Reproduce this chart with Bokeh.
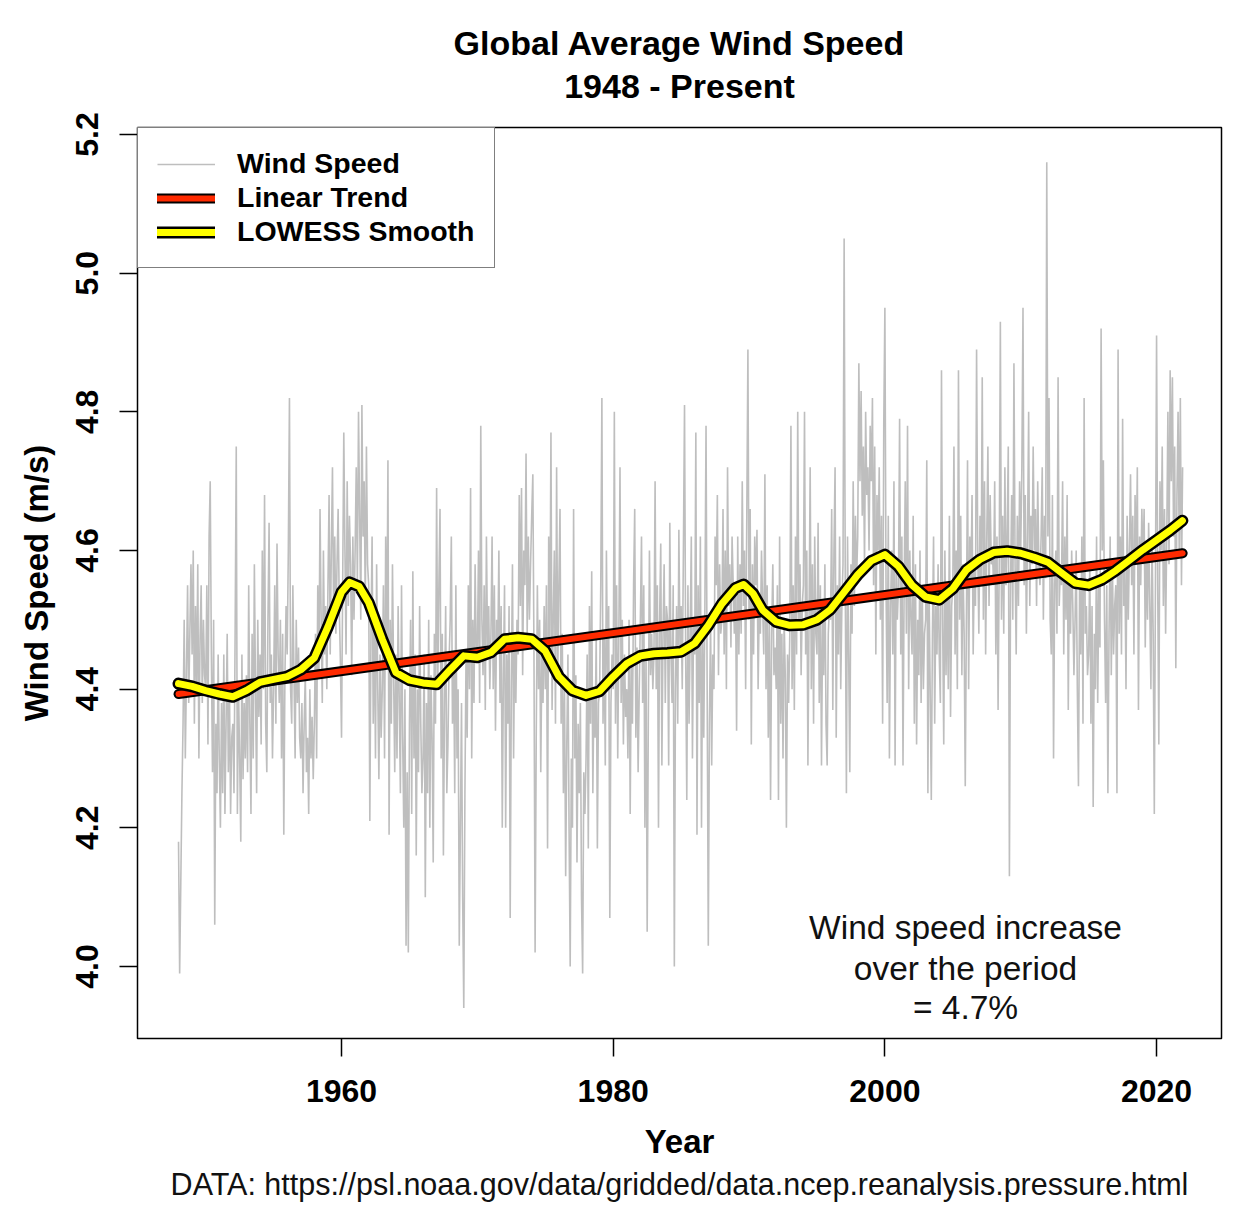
from bokeh.plotting import figure
from bokeh.models import Range1d, FixedTicker, Label, Legend, LegendItem, Title
from bokeh.embed import file_html
from bokeh.resources import INLINE

# ---------------- data ----------------
start_year = 1948

wind_1948_1959 = [
    4.18, 3.99, 4.12, 4.25, 4.35, 4.50, 4.30, 4.42, 4.55, 4.38, 4.48, 4.58,
    4.45, 4.60, 4.35, 4.52, 4.40, 4.58, 4.30, 4.47, 4.55, 4.38, 4.50, 4.42,
    4.40, 4.55, 4.32, 4.62, 4.70, 4.45, 4.28, 4.50, 4.06, 4.35, 4.25, 4.45,
    4.30, 4.20, 4.38, 4.25, 4.45, 4.22, 4.35, 4.48, 4.28, 4.40, 4.22, 4.33,
    4.35, 4.25, 4.48, 4.75, 4.22, 4.40, 4.30, 4.18, 4.45, 4.27, 4.38, 4.30,
    4.42, 4.28, 4.55, 4.35, 4.22, 4.48, 4.30, 4.58, 4.40, 4.25, 4.50, 4.36,
    4.45, 4.32, 4.60, 4.40, 4.68, 4.35, 4.28, 4.50, 4.64, 4.38, 4.45, 4.30,
    4.40, 4.55, 4.35, 4.61, 4.45, 4.38, 4.50, 4.30, 4.48, 4.19, 4.42, 4.52,
    4.45, 4.60, 4.82, 4.40, 4.35, 4.55, 4.42, 4.30, 4.50, 4.38, 4.46, 4.33,
    4.30, 4.38, 4.25, 4.35, 4.42, 4.28, 4.33, 4.22, 4.40, 4.30, 4.36, 4.27,
    4.35, 4.48, 4.30, 4.55, 4.42, 4.66, 4.50, 4.38, 4.60, 4.45, 4.52, 4.40,
    4.55, 4.68, 4.45, 4.60, 4.72, 4.50, 4.62, 4.48, 4.58, 4.66, 4.52, 4.44,
]
wind_1960s = [
    4.33, 4.55, 4.77, 4.60, 4.45, 4.70, 4.52, 4.65, 4.58, 4.42, 4.62, 4.50,
    4.60, 4.72, 4.55, 4.80, 4.65, 4.50, 4.81, 4.62, 4.70, 4.52, 4.75, 4.58,
    4.55, 4.21, 4.48, 4.62, 4.35, 4.50, 4.30, 4.58, 4.40, 4.27, 4.45, 4.33,
    4.40, 4.55, 4.30, 4.62, 4.45, 4.73, 4.19, 4.50, 4.35, 4.58, 4.42, 4.28,
    4.45, 4.30, 4.52, 4.38, 4.25, 4.55, 4.33, 4.20, 4.40, 4.03, 4.28, 4.02,
    4.35, 4.50, 4.22, 4.57, 4.30, 4.45, 4.16, 4.40, 4.28, 4.52, 4.35, 4.25,
    4.30, 4.45, 4.10, 4.38, 4.25, 4.50, 4.20, 4.42, 4.33, 4.15, 4.48, 4.35,
    4.69, 4.40, 4.55, 4.66, 4.30, 4.48, 4.16, 4.38, 4.52, 4.25, 4.32, 4.44,
    4.50, 4.62, 4.35, 4.45, 4.25, 4.55, 4.30, 4.40, 4.03, 4.20, 4.38, 4.10,
    3.94, 4.25, 4.45, 4.33, 4.55, 4.40, 4.69, 4.30, 4.50, 4.38, 4.58, 4.45,
]
wind_1970s = [
    4.45, 4.60, 4.38, 4.78, 4.50, 4.42, 4.55, 4.37, 4.62, 4.46, 4.52, 4.40,
    4.48, 4.62, 4.40, 4.55, 4.34, 4.50, 4.45, 4.60, 4.38, 4.52, 4.20, 4.42,
    4.55, 4.20, 4.45, 4.35, 4.52, 4.07, 4.40, 4.58, 4.30, 4.48, 4.38, 4.50,
    4.45, 4.68, 4.52, 4.69, 4.42, 4.60, 4.55, 4.74, 4.48, 4.62, 4.50, 4.58,
    4.65, 4.71, 4.45, 4.02, 4.33, 4.55, 4.40, 4.50, 4.28, 4.45, 4.38, 4.52,
    4.40, 4.55, 4.17, 4.62, 4.45, 4.77, 4.37, 4.50, 4.60, 4.35, 4.72, 4.42,
    4.55, 4.66, 4.35, 4.48, 4.25, 4.40, 4.13, 4.32, 4.45, 4.20, 4.00, 4.30,
    4.20, 4.66, 4.30, 4.42, 4.15, 4.35, 4.25, 4.38, 4.10, 3.99, 4.28, 4.22,
    4.30, 4.45, 4.17, 4.52, 4.35, 4.57, 4.25, 4.40, 4.33, 4.48, 4.17, 4.38,
    4.40, 4.55, 4.82, 4.35, 4.48, 4.29, 4.60, 4.42, 4.52, 4.07, 4.38, 4.45,
]
wind_1980s = [
    4.40, 4.80, 4.35, 4.55, 4.30, 4.48, 4.72, 4.38, 4.50, 4.32, 4.45, 4.36,
    4.40, 4.30, 4.50, 4.22, 4.45, 4.35, 4.55, 4.66, 4.33, 4.46, 4.28, 4.40,
    4.50, 4.62, 4.38, 4.55, 4.20, 4.45, 4.05, 4.35, 4.60, 4.42, 4.48, 4.40,
    4.45, 4.70, 4.40, 4.55, 4.20, 4.50, 4.61, 4.29, 4.48, 4.58, 4.38, 4.52,
    4.50, 4.29, 4.64, 4.45, 4.38, 4.55, 4.00, 4.40, 4.52, 4.35, 4.63, 4.46,
    4.52, 4.40, 4.60, 4.81, 4.45, 4.24, 4.55, 4.35, 4.48, 4.62, 4.30, 4.50,
    4.45, 4.77, 4.19, 4.55, 4.38, 4.62, 4.20, 4.48, 4.33, 4.52, 4.78, 4.40,
    4.03, 4.35, 4.50, 4.29, 4.45, 4.40, 4.62, 4.55, 4.68, 4.42, 4.58, 4.48,
    4.50, 4.66, 4.45, 4.60, 4.40, 4.72, 4.52, 4.58, 4.46, 4.62, 4.55, 4.48,
    4.55, 4.34, 4.62, 4.45, 4.58, 4.48, 4.70, 4.52, 4.60, 4.40, 4.65, 4.89,
]
wind_1990s = [
    4.50, 4.66, 4.32, 4.58, 4.45, 4.62, 4.55, 4.63, 4.40, 4.52, 4.48, 4.60,
    4.52, 4.45, 4.71, 4.40, 4.55, 4.33, 4.50, 4.24, 4.48, 4.58, 4.42, 4.46,
    4.40, 4.55, 4.24, 4.62, 4.35, 4.48, 4.30, 4.50, 4.42, 4.20, 4.45, 4.38,
    4.48, 4.78, 4.40, 4.55, 4.37, 4.62, 4.45, 4.80, 4.50, 4.58, 4.42, 4.52,
    4.55, 4.80, 4.45, 4.60, 4.29, 4.50, 4.72, 4.40, 4.58, 4.35, 4.62, 4.48,
    4.45, 4.64, 4.38, 4.55, 4.29, 4.50, 4.42, 4.58, 4.35, 4.29, 4.48, 4.52,
    4.50, 4.66, 4.37, 4.60, 4.72, 4.33, 4.55, 4.45, 4.62, 4.40, 4.52, 4.58,
    5.05, 4.55, 4.25, 4.62, 4.45, 4.28, 4.58, 4.48, 4.70, 4.52, 4.65, 4.56,
    4.62, 4.87, 4.70, 4.83, 4.65, 4.75, 4.58, 4.80, 4.68, 4.72, 4.60, 4.78,
    4.70, 4.82, 4.55, 4.75, 4.45, 4.68, 4.60, 4.72, 4.50, 4.65, 4.35, 4.78,
]
wind_2000s = [
    4.95, 4.55, 4.38, 4.65, 4.30, 4.52, 4.60, 4.45, 4.70, 4.29, 4.58, 4.50,
    4.55, 4.79, 4.45, 4.62, 4.29, 4.55, 4.70, 4.48, 4.78, 4.40, 4.60, 4.50,
    4.45, 4.65, 4.35, 4.58, 4.32, 4.50, 4.42, 4.60, 4.38, 4.55, 4.40, 4.48,
    4.50, 4.73, 4.25, 4.55, 4.40, 4.24, 4.48, 4.62, 4.35, 4.52, 4.45, 4.58,
    4.45, 4.38, 4.86, 4.50, 4.32, 4.60, 4.42, 4.55, 4.40, 4.65, 4.36, 4.52,
    4.55, 4.75, 4.45, 4.60, 4.40, 4.86, 4.50, 4.65, 4.42, 4.58, 4.48, 4.26,
    4.50, 4.73, 4.40, 4.62, 4.55, 4.68, 4.45, 4.58, 4.52, 4.89, 4.60, 4.48,
    4.65, 4.55, 4.85, 4.50, 4.70, 4.45, 4.62, 4.75, 4.52, 4.68, 4.58, 4.60,
    4.55, 4.70, 4.45, 4.62, 4.37, 4.58, 4.93, 4.50, 4.65, 4.48, 4.72, 4.55,
    4.62, 4.75, 4.13, 4.55, 4.68, 4.50, 4.87, 4.58, 4.45, 4.65, 4.52, 4.70,
]
wind_2010s = [
    4.60, 4.72, 4.95, 4.55, 4.68, 4.48, 4.62, 4.80, 4.52, 4.65, 4.58, 4.75,
    4.60, 4.66, 4.52, 4.70, 4.58, 4.55, 4.62, 4.72, 4.50, 4.65, 4.56, 5.16,
    4.62, 4.82, 4.50, 4.45, 4.68, 4.30, 4.55, 4.60, 4.48, 4.85, 4.52, 4.58,
    4.55, 4.70, 4.45, 4.62, 4.50, 4.68, 4.37, 4.58, 4.48, 4.60, 4.52, 4.42,
    4.50, 4.60, 4.40, 4.26, 4.55, 4.45, 4.62, 4.35, 4.82, 4.48, 4.52, 4.42,
    4.45, 4.58, 4.35, 4.52, 4.23, 4.48, 4.40, 4.62, 4.38, 4.55, 4.46, 4.92,
    4.60, 4.73, 4.50, 4.38, 4.55, 4.25, 4.48, 4.62, 4.42, 4.58, 4.45, 4.52,
    4.55, 4.25, 4.89, 4.48, 4.62, 4.45, 4.79, 4.52, 4.58, 4.40, 4.65, 4.50,
    4.60, 4.71, 4.55, 4.65, 4.45, 4.68, 4.58, 4.72, 4.37, 4.62, 4.55, 4.66,
    4.58, 4.66, 4.46, 4.60, 4.50, 4.64, 4.52, 4.40, 4.62, 4.48, 4.22, 4.55,
]
wind_2020s = [
    4.91, 4.55, 4.32, 4.70, 4.60, 4.75, 4.52, 4.66, 4.48, 4.62, 4.80, 4.58,
    4.86, 4.70, 4.85, 4.62, 4.75, 4.43, 4.68, 4.80, 4.60, 4.82, 4.55, 4.72,
]

trend_year = [1948.0, 2021.92]
trend_value = [4.393, 4.596]

lowess_year = [1948.0, 1949, 1950, 1951, 1952, 1953, 1954, 1955, 1956, 1957, 1958, 1959,
               1960, 1960.6, 1961.3, 1962, 1963, 1964, 1965, 1966, 1967, 1968, 1969,
               1970, 1971, 1972, 1973, 1974, 1975, 1976, 1977, 1978, 1979, 1980, 1981,
               1982, 1983, 1984, 1985, 1986, 1987, 1988, 1989, 1989.6, 1990.3, 1991,
               1992, 1993, 1994, 1995, 1996, 1997, 1998, 1999, 2000, 2001, 2002, 2003,
               2004, 2005, 2006, 2007, 2008, 2009, 2010, 2011, 2012, 2013, 2014, 2015,
               2016, 2017, 2018, 2019, 2020, 2021, 2021.9]
lowess_value = [4.408, 4.404, 4.398, 4.393, 4.389, 4.398, 4.410, 4.414, 4.418, 4.428, 4.445, 4.490,
                4.540, 4.554, 4.548, 4.525, 4.472, 4.424, 4.413, 4.409, 4.407, 4.428, 4.448,
                4.446, 4.453, 4.472, 4.474, 4.472, 4.455, 4.418, 4.398, 4.391, 4.397, 4.418, 4.437,
                4.448, 4.451, 4.452, 4.454, 4.466, 4.492, 4.523, 4.546, 4.551, 4.538, 4.514,
                4.497, 4.492, 4.493, 4.500, 4.515, 4.540, 4.565, 4.585, 4.594, 4.577, 4.550, 4.533,
                4.529, 4.545, 4.572, 4.587, 4.597, 4.599, 4.596, 4.590, 4.583, 4.568, 4.553, 4.550,
                4.558, 4.571, 4.586, 4.601, 4.615, 4.629, 4.643]

x_ticks = [1960, 1980, 2000, 2020]
x_tick_labels = ["1960", "1980", "2000", "2020"]
y_ticks = [4.0, 4.2, 4.4, 4.6, 4.8, 5.0, 5.2]
y_tick_labels = ["4.0", "4.2", "4.4", "4.6", "4.8", "5.0", "5.2"]

legend_labels = ["Wind Speed", "Linear Trend", "LOWESS Smooth"]
title_lines = ["Global Average Wind Speed", "1948 - Present"]
note_lines = ["Wind speed increase", "over the period", "= 4.7%"]
source_text = "DATA: https://psl.noaa.gov/data/gridded/data.ncep.reanalysis.pressure.html"

wind_speed = (wind_1948_1959 + wind_1960s + wind_1970s + wind_1980s
              + wind_1990s + wind_2000s + wind_2010s + wind_2020s)
month_time = [start_year + i / 12.0 for i in range(len(wind_speed))]

# ---------------- figure ----------------
FONT = "Liberation Sans"
X0, X1 = 1944.98, 2024.78
Y0, Y1 = 3.8961, 5.2101

p = figure(width=1234, height=1205, output_backend="svg", toolbar_location=None,
           x_range=Range1d(X0, X1), y_range=Range1d(Y0, Y1),
           min_border_left=137, min_border_right=13, min_border_top=127,
           min_border_bottom=167, background_fill_color="white",
           border_fill_color="white")
p.xgrid.visible = False
p.ygrid.visible = False
p.outline_line_color = "black"
p.outline_line_width = 1.5
p.outline_line_alpha = 1.0


def px_to_x(px):
    return X0 + (px - 137) / 13.584


def py_to_y(py):
    return 4.0 + (966 - py) / 693.3


# titles: main title is the outer one, the added subtitle sits next to the frame
p.title.text = title_lines[0]
p.title.align = "center"
p.title.text_font = FONT
p.title.text_font_style = "bold"
p.title.text_font_size = "34px"
p.title.text_color = "black"
p.title.standoff = -40
p.add_layout(Title(text=title_lines[1], align="center", text_font=FONT,
                   text_font_style="bold", text_font_size="34px",
                   text_color="black", standoff=46), "above")

# axes
for ax in (p.xaxis[0], p.yaxis[0]):
    ax.axis_line_color = None
    ax.major_tick_line_color = "black"
    ax.major_tick_line_width = 1.5
    ax.major_tick_out = 18
    ax.major_tick_in = 0
    ax.minor_tick_out = 0
    ax.minor_tick_in = 0
    ax.major_label_text_font = FONT
    ax.major_label_text_font_style = "bold"
    ax.major_label_text_font_size = "32px"
    ax.major_label_text_color = "black"
    ax.axis_label_text_font = FONT
    ax.axis_label_text_font_style = "bold"
    ax.axis_label_text_font_size = "33px"
    ax.axis_label_text_color = "black"

p.xaxis.ticker = FixedTicker(ticks=x_ticks)
p.xaxis.major_label_overrides = dict(zip(x_ticks, x_tick_labels))
p.xaxis.major_label_standoff = 23
p.xaxis.axis_label = "Year"
p.xaxis.axis_label_standoff = 18

p.yaxis.ticker = FixedTicker(ticks=y_ticks)
p.yaxis.major_label_overrides = dict(zip(y_ticks, y_tick_labels))
p.yaxis.major_label_orientation = "parallel"
p.yaxis.major_label_standoff = 21
p.yaxis.axis_label = "Wind Speed (m/s)"
p.yaxis.axis_label_standoff = 19

# source line below the x axis
p.add_layout(Title(text=source_text, align="center", text_font=FONT,
                   text_font_style="normal", text_font_size="30.5px",
                   text_color="#111111", standoff=4), "below")

# series
gray = p.line(month_time, wind_speed, line_color="#bebebe", line_width=1.6)
tb = p.line(trend_year, trend_value, line_color="black", line_width=10, line_cap="round")
tr = p.line(trend_year, trend_value, line_color="#ff2a00", line_width=6, line_cap="round")
lb = p.line(lowess_year, lowess_value, line_color="black", line_width=12,
            line_cap="round", line_join="round")
ly = p.line(lowess_year, lowess_value, line_color="#ffff00", line_width=7,
            line_cap="round", line_join="round")

legend = Legend(items=[LegendItem(label=legend_labels[0], renderers=[gray]),
                       LegendItem(label=legend_labels[1], renderers=[tb, tr]),
                       LegendItem(label=legend_labels[2], renderers=[lb, ly])],
                location="top_left", margin=0, padding=19, spacing=1,
                glyph_width=58, glyph_height=20, label_standoff=22, label_height=30,
                label_text_font=FONT, label_text_font_style="bold",
                label_text_font_size="28.5px", label_text_color="black",
                border_line_color="black", border_line_width=1.5,
                background_fill_color="white", background_fill_alpha=1.0)
p.add_layout(legend)

# note inside plot
for txt, py in zip(note_lines, [927, 968, 1007]):
    p.add_layout(Label(x=px_to_x(965), y=py_to_y(py), text=txt, text_align="center",
                       text_baseline="middle", text_font=FONT,
                       text_font_size="33.5px", text_color="#111111"))

open("out.html", "w").write(file_html(p, INLINE))
